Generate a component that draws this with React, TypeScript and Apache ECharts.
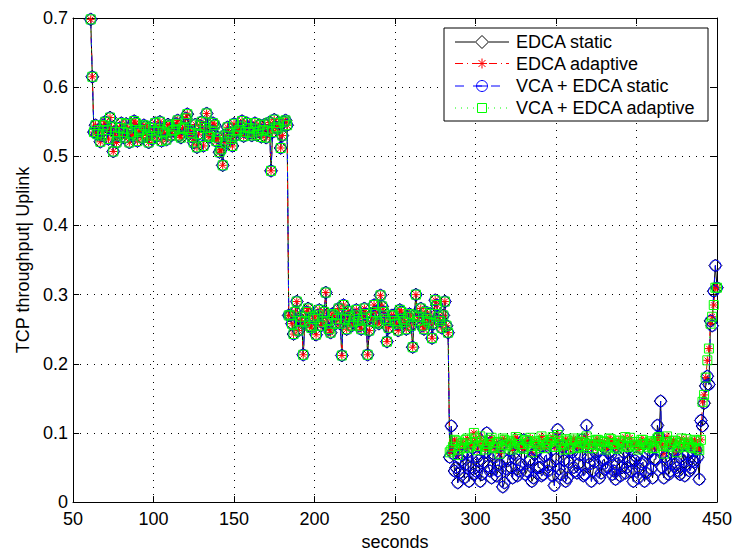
import React, { useEffect, useRef } from "react";
import * as echarts from "echarts";

// ---- Data (seconds, TCP throughput) ----
// Phase 1, odd seconds 61..183 (all four schemes coincide)
const highPhaseA = [
  0.698, 0.535, 0.532, 0.521, 0.545, 0.538, 0.556, 0.507, 0.52, 0.541,
  0.535, 0.547, 0.52, 0.53, 0.548, 0.536, 0.527, 0.543, 0.52, 0.525,
  0.548, 0.54, 0.522, 0.533, 0.546, 0.53, 0.538, 0.552, 0.527, 0.541,
  0.561, 0.534, 0.52, 0.513, 0.544, 0.515, 0.562, 0.528, 0.548, 0.522,
  0.506, 0.487, 0.52, 0.534, 0.515, 0.53, 0.538, 0.551, 0.535, 0.541,
  0.53, 0.548, 0.536, 0.528, 0.546, 0.537, 0.479, 0.553, 0.54, 0.512,
  0.55, 0.545,
];
// Phase 1, even seconds 62..182
const highPhaseAEven = [
  0.615, 0.545, 0.538, 0.53, 0.55, 0.525, 0.542, 0.535, 0.53, 0.548,
  0.527, 0.54, 0.533, 0.551, 0.522, 0.538, 0.545, 0.53, 0.541, 0.536,
  0.529, 0.55, 0.535, 0.524, 0.544, 0.537, 0.547, 0.53, 0.54, 0.555,
  0.538, 0.528, 0.546, 0.532, 0.55, 0.541, 0.53, 0.537, 0.545, 0.527,
  0.51, 0.53, 0.542, 0.525, 0.547, 0.536, 0.543, 0.529, 0.548, 0.534,
  0.54, 0.531, 0.545, 0.538, 0.527, 0.549, 0.535, 0.542, 0.548, 0.53,
  0.552,
];
// Phase 2, odd seconds 185..283 (all four schemes coincide)
const highPhaseB = [
  0.27, 0.243, 0.29, 0.262, 0.213, 0.275, 0.255, 0.268, 0.242, 0.278,
  0.26, 0.303, 0.25, 0.272, 0.258, 0.28, 0.212, 0.265, 0.276, 0.255,
  0.27, 0.262, 0.25, 0.28, 0.213, 0.268, 0.285, 0.26, 0.299, 0.275,
  0.232, 0.262, 0.27, 0.258, 0.278, 0.265, 0.25, 0.272, 0.224, 0.3,
  0.268, 0.255, 0.275, 0.26, 0.237, 0.292, 0.268, 0.252, 0.29, 0.245,
];
// Phase 2, even seconds 184..282
const highPhaseBEven = [
  0.27, 0.258, 0.275, 0.248, 0.268, 0.26, 0.28, 0.252, 0.265, 0.27,
  0.255, 0.275, 0.262, 0.245, 0.27, 0.265, 0.258, 0.285, 0.25, 0.268,
  0.26, 0.278, 0.255, 0.265, 0.272, 0.248, 0.262, 0.275, 0.258, 0.283,
  0.265, 0.252, 0.27, 0.262, 0.248, 0.275, 0.26, 0.268, 0.255, 0.27,
  0.262, 0.28, 0.25, 0.265, 0.272, 0.258, 0.285, 0.262, 0.27, 0.255,
];
// Phase 3, odd seconds 285..439
const staticLow = [
  0.11, 0.045, 0.028, 0.06, 0.035, 0.072, 0.05, 0.04, 0.065, 0.03,
  0.058, 0.1, 0.045, 0.07, 0.038, 0.055, 0.022, 0.048, 0.075, 0.035,
  0.062, 0.045, 0.08, 0.04, 0.058, 0.03, 0.07, 0.05, 0.038, 0.066,
  0.045, 0.085, 0.024, 0.105, 0.04, 0.06, 0.035, 0.075, 0.05, 0.042,
  0.068, 0.038, 0.111, 0.055, 0.045, 0.07, 0.035, 0.06, 0.048, 0.072,
  0.04, 0.033, 0.065, 0.05, 0.042, 0.078, 0.045, 0.06, 0.035, 0.055,
  0.03, 0.07, 0.048, 0.062, 0.111, 0.146, 0.035, 0.058, 0.045, 0.075,
  0.05, 0.04, 0.068, 0.055, 0.045, 0.06, 0.075, 0.033,
];
// Phase 3, even seconds 284..438
const staticLowEven = [
  0.065, 0.07, 0.05, 0.042, 0.068, 0.055, 0.03, 0.078, 0.045, 0.06,
  0.04, 0.072, 0.052, 0.035, 0.065, 0.045, 0.082, 0.028, 0.06, 0.05,
  0.07, 0.038, 0.055, 0.09, 0.045, 0.062, 0.035, 0.075, 0.05, 0.04,
  0.068, 0.055, 0.038, 0.062, 0.048, 0.08, 0.03, 0.058, 0.072, 0.045,
  0.055, 0.09, 0.04, 0.065, 0.03, 0.058, 0.075, 0.042, 0.062, 0.05,
  0.068, 0.045, 0.055, 0.038, 0.072, 0.05, 0.06, 0.03, 0.065, 0.048,
  0.058, 0.042, 0.075, 0.035, 0.062, 0.095, 0.05, 0.065, 0.04, 0.07,
  0.055, 0.045, 0.062, 0.038, 0.07, 0.05, 0.058, 0.065,
];
const adaptiveLow = [
  0.075, 0.09, 0.068, 0.085, 0.078, 0.092, 0.082, 0.1, 0.075, 0.095,
  0.085, 0.08, 0.09, 0.078, 0.086, 0.07, 0.092, 0.082, 0.088, 0.076,
  0.094, 0.084, 0.079, 0.09, 0.085, 0.072, 0.088, 0.082, 0.095, 0.078,
  0.086, 0.09, 0.08, 0.097, 0.084, 0.076, 0.089, 0.083, 0.092, 0.078,
  0.087, 0.081, 0.095, 0.084, 0.078, 0.09, 0.083, 0.088, 0.076, 0.092,
  0.085, 0.079, 0.089, 0.082, 0.094, 0.08, 0.087, 0.083, 0.076, 0.09,
  0.084, 0.08, 0.088, 0.078, 0.092, 0.085, 0.07, 0.095, 0.082, 0.089,
  0.072, 0.086, 0.08, 0.091, 0.083, 0.078, 0.088, 0.075,
];
const adaptiveLowEven = [
  0.072, 0.08, 0.088, 0.076, 0.085, 0.09, 0.079, 0.086, 0.092, 0.081,
  0.088, 0.076, 0.084, 0.093, 0.08, 0.087, 0.078, 0.09, 0.083, 0.086,
  0.079, 0.091, 0.084, 0.077, 0.088, 0.093, 0.081, 0.086, 0.078, 0.09,
  0.083, 0.087, 0.094, 0.08, 0.088, 0.082, 0.091, 0.077, 0.086, 0.089,
  0.08, 0.092, 0.085, 0.078, 0.088, 0.083, 0.09, 0.081, 0.087, 0.079,
  0.091, 0.084, 0.077, 0.088, 0.086, 0.08, 0.093, 0.082, 0.087, 0.079,
  0.09, 0.083, 0.086, 0.078, 0.088, 0.094, 0.081, 0.087, 0.08, 0.085,
  0.088, 0.079, 0.092, 0.083, 0.086, 0.08, 0.09, 0.078,
];
// Final ramp, seconds 440..450
const staticTail = [0.118, 0.11, 0.143, 0.168, 0.182, 0.17, 0.262, 0.255, 0.305, 0.342, 0.31];
const adaptiveTail = [0.09, 0.145, 0.155, 0.18, 0.205, 0.222, 0.258, 0.268, 0.285, 0.31, 0.31];

const seriesNames = ["EDCA static", "EDCA adaptive", "VCA + EDCA static", "VCA + EDCA adaptive"];
const xTicks = { min: 50, max: 450, interval: 50 };
const yTicks = { min: 0, max: 0.7, interval: 0.1 };

function pairs(start: number, step: number, ys: number[]): number[][] {
  return ys.map((y, i) => [start + i * step, y]);
}
function assemble(parts: number[][][]): number[][] {
  return ([] as number[][]).concat(...parts).sort((a, b) => a[0] - b[0]);
}

const staticData = assemble([
  pairs(61, 2, highPhaseA), pairs(62, 2, highPhaseAEven),
  pairs(185, 2, highPhaseB), pairs(184, 2, highPhaseBEven),
  pairs(285, 2, staticLow), pairs(284, 2, staticLowEven),
  pairs(440, 1, staticTail),
]);
const adaptiveData = assemble([
  pairs(61, 2, highPhaseA), pairs(62, 2, highPhaseAEven),
  pairs(185, 2, highPhaseB), pairs(184, 2, highPhaseBEven),
  pairs(285, 2, adaptiveLow), pairs(284, 2, adaptiveLowEven),
  pairs(440, 1, adaptiveTail),
]);

const FONT = "'Liberation Sans', Arial, Helvetica, sans-serif";
const STAR = "path://M5 0 L5 10 M0 5 L10 5 M1.5 1.5 L8.5 8.5 M1.5 8.5 L8.5 1.5";

function makeSeries(name: string, data: number[][], color: string, lineType: any, symbol: string, size: number) {
  return {
    name,
    type: "line",
    data,
    symbol,
    symbolSize: size,
    showSymbol: true,
    showAllSymbol: true,
    silent: true,
    emphasis: { disabled: true },
    lineStyle: { color, width: 1, type: lineType },
    itemStyle: { color: "rgba(0,0,0,0)", borderColor: color, borderWidth: 1 },
  };
}

export default function App() {
  const ref = useRef<HTMLDivElement>(null);
  useEffect(() => {
    if (!ref.current) return;
    const chart = echarts.init(ref.current, undefined, { renderer: "svg" });
    const axisCommon = {
      type: "value",
      axisLine: { show: true, onZero: false, lineStyle: { color: "#000", width: 1 } },
      axisTick: { show: true, inside: true, length: 6, lineStyle: { color: "#000", width: 1 } },
    };
    const lg = { x: 444, y: 28, w: 264, h: 93 };
    const rows = [42, 63.5, 86, 108];
    const lx1 = 455, lx2 = 509, mx = 482;
    const legendGraphics: any[] = [
      { type: "rect", shape: { x: lg.x, y: lg.y, width: lg.w, height: lg.h }, style: { fill: "#fff", stroke: "#000", lineWidth: 1 }, z: 100 },
      // EDCA static
      { type: "line", shape: { x1: lx1, y1: rows[0], x2: mx - 7, y2: rows[0] }, style: { stroke: "#000", lineWidth: 1 }, z: 101 },
      { type: "line", shape: { x1: mx + 7, y1: rows[0], x2: lx2, y2: rows[0] }, style: { stroke: "#000", lineWidth: 1 }, z: 101 },
      { type: "polygon", shape: { points: [[mx, rows[0] - 6.5], [mx + 6.5, rows[0]], [mx, rows[0] + 6.5], [mx - 6.5, rows[0]]] }, style: { fill: "none", stroke: "#000", lineWidth: 1 }, z: 101 },
      // EDCA adaptive
      { type: "line", shape: { x1: lx1, y1: rows[1], x2: lx2, y2: rows[1] }, style: { stroke: "#f00", lineWidth: 1, lineDash: [8, 4, 1, 4] }, z: 101 },
      { type: "line", shape: { x1: mx - 5, y1: rows[1], x2: mx + 5, y2: rows[1] }, style: { stroke: "#f00", lineWidth: 1 }, z: 102 },
      { type: "line", shape: { x1: mx, y1: rows[1] - 5, x2: mx, y2: rows[1] + 5 }, style: { stroke: "#f00", lineWidth: 1 }, z: 102 },
      { type: "line", shape: { x1: mx - 3.5, y1: rows[1] - 3.5, x2: mx + 3.5, y2: rows[1] + 3.5 }, style: { stroke: "#f00", lineWidth: 1 }, z: 102 },
      { type: "line", shape: { x1: mx - 3.5, y1: rows[1] + 3.5, x2: mx + 3.5, y2: rows[1] - 3.5 }, style: { stroke: "#f00", lineWidth: 1 }, z: 102 },
      // VCA + EDCA static
      { type: "line", shape: { x1: lx1, y1: rows[2], x2: lx2, y2: rows[2] }, style: { stroke: "#00f", lineWidth: 1, lineDash: [9, 9] }, z: 101 },
      { type: "circle", shape: { cx: mx, cy: rows[2], r: 5.5 }, style: { fill: "none", stroke: "#00f", lineWidth: 1 }, z: 102 },
      { type: "line", shape: { x1: mx - 5, y1: rows[2], x2: mx + 5, y2: rows[2] }, style: { stroke: "#00f", lineWidth: 1 }, z: 102 },
      // VCA + EDCA adaptive
      { type: "line", shape: { x1: lx1, y1: rows[3], x2: mx - 6, y2: rows[3] }, style: { stroke: "#0f0", lineWidth: 1, lineDash: [1, 5] }, z: 101 },
      { type: "line", shape: { x1: mx + 6, y1: rows[3], x2: lx2, y2: rows[3] }, style: { stroke: "#0f0", lineWidth: 1, lineDash: [1, 5] }, z: 101 },
      { type: "rect", shape: { x: mx - 4.5, y: rows[3] - 4.5, width: 9, height: 9 }, style: { fill: "none", stroke: "#0f0", lineWidth: 1 }, z: 102 },
    ];
    seriesNames.forEach((n, i) => {
      legendGraphics.push({
        type: "text",
        x: 516,
        y: rows[i],
        style: { text: n, fill: "#000", font: `18px ${FONT}`, textAlign: "left", textVerticalAlign: "middle" },
        z: 103,
      });
    });

    chart.setOption({
      animation: false,
      backgroundColor: "#fff",
      grid: { left: 73, top: 18, right: 17, bottom: 46, containLabel: false },
      xAxis: [
        {
          ...axisCommon,
          ...xTicks,
          position: "bottom",
          axisLabel: { color: "#000", fontSize: 18, fontFamily: FONT, margin: 8 },
          splitLine: { show: true, lineStyle: { color: "#000", width: 1, type: [1, 6] } },
          name: "seconds",
          nameLocation: "middle",
          nameGap: 29,
          nameTextStyle: { color: "#000", fontSize: 18, fontFamily: FONT },
        },
        {
          ...axisCommon,
          ...xTicks,
          position: "top",
          axisLabel: { show: false },
          splitLine: { show: false },
        },
      ],
      yAxis: [
        {
          ...axisCommon,
          ...yTicks,
          position: "left",
          axisLabel: {
            color: "#000",
            fontSize: 18,
            fontFamily: FONT,
            margin: 5,
            formatter: (v: number) => (v === 0 ? "0" : v.toFixed(1)),
          },
          splitLine: { show: true, lineStyle: { color: "#000", width: 1, type: [1, 6] } },
          name: "TCP throughput| Uplink",
          nameLocation: "middle",
          nameRotate: 90,
          nameGap: 37,
          nameTextStyle: { color: "#000", fontSize: 18, fontFamily: FONT },
        },
        {
          ...axisCommon,
          ...yTicks,
          position: "right",
          axisLabel: { show: false },
          splitLine: { show: false },
        },
      ],
      series: [
        makeSeries(seriesNames[0], staticData, "#000000", "solid", "diamond", 13),
        makeSeries(seriesNames[1], adaptiveData, "#ff0000", [8, 4, 1, 4], STAR, 8),
        makeSeries(seriesNames[2], staticData, "#0000ff", [9, 9], "circle", 11),
        makeSeries(seriesNames[3], adaptiveData, "#00ff00", [1, 5], "rect", 9),
      ],
      graphic: legendGraphics,
    });
    return () => chart.dispose();
  }, []);
  return (
    <div
      ref={ref}
      style={{ position: "absolute", left: 0, top: 0, width: 735, height: 556, background: "#fff" }}
    />
  );
}
